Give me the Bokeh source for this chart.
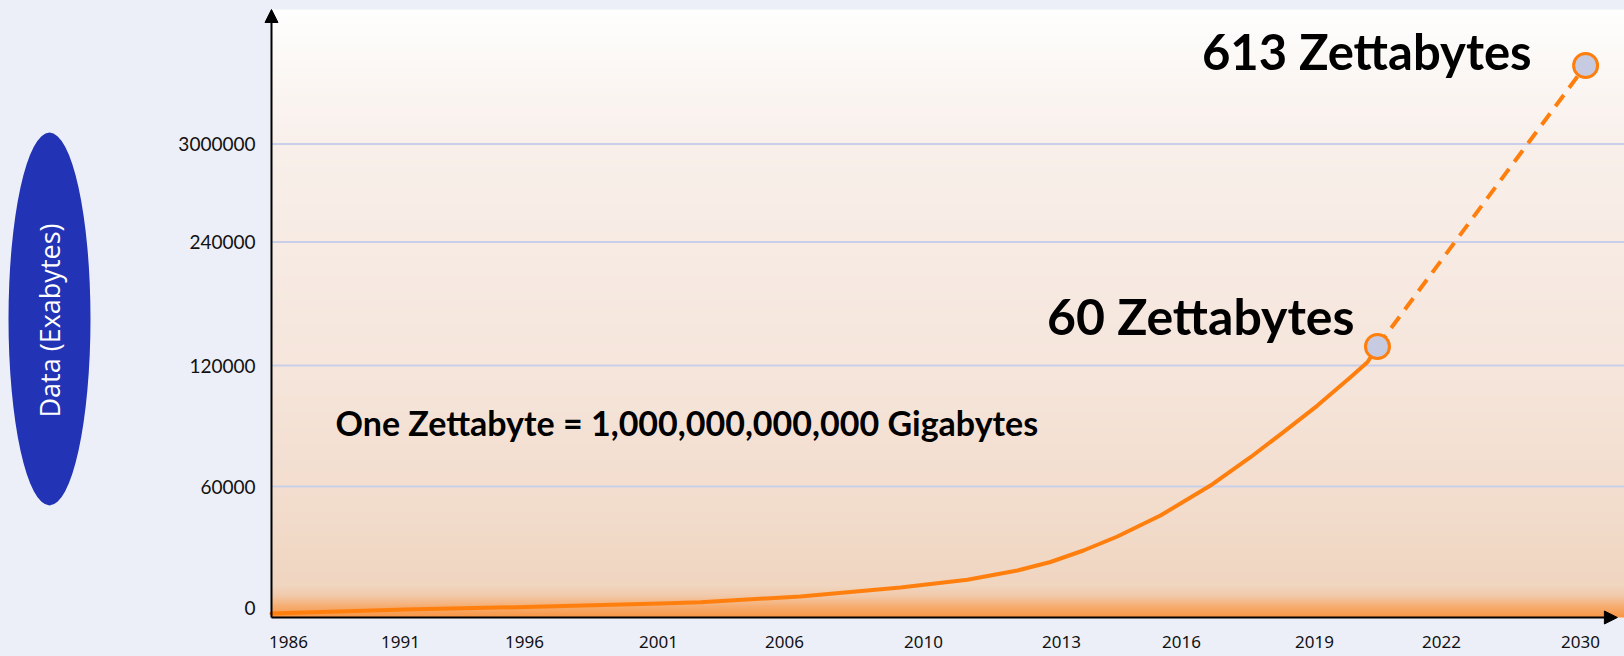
import numpy as np
from math import pi
from bokeh.plotting import figure
from bokeh.layouts import row
from bokeh.models import Range1d, FixedTicker, Arrow, NormalHead
from bokeh.core.properties import value
from bokeh.embed import file_html
from bokeh.resources import INLINE

# ---------------- data ----------------
x_labels = ["1986", "1991", "1996", "2001", "2006", "2010", "2013", "2016", "2019", "2022", "2030"]
x_tick_pos = [0.0, 0.867, 1.827, 2.864, 3.839, 4.915, 5.983, 6.912, 7.941, 8.924, 10.0]

y_labels = ["0", "60000", "120000", "240000", "3000000"]
y_tick_pos = [0.0, 1.0, 2.0, 3.02, 3.83]

# historic growth curve (chart units)
curve_x = [-0.132, 0.906, 1.842, 2.879, 3.189, 3.963, 4.737, 5.255, 5.642, 5.898,
           6.153, 6.416, 6.749, 7.136, 7.446, 7.701, 7.964, 8.220, 8.351, 8.429]
curve_y = [-0.050, -0.017, 0.004, 0.033, 0.044, 0.091, 0.165, 0.229, 0.306, 0.376,
           0.471, 0.587, 0.760, 1.008, 1.242, 1.449, 1.669, 1.903, 2.027, 2.157]

# projection (dashed) between the two highlighted points
proj_x = [8.429, 10.04]
proj_y = [2.157, 4.479]
proj_labels = ["60 Zettabytes", "613 Zettabytes"]

note_text = "One Zettabyte = 1,000,000,000,000 Gigabytes"
y_title = "Data (Exabytes)"

# ---------------- styling ----------------
BG = "#eceff8"
ORANGE = "#ff7f0e"
FONT = "Lato"

# frame extent (slightly larger than the drawn plot area so the axis arrows are not clipped)
X0, X1 = -0.1935, 10.341
Y0, Y1 = -0.157, 5.0165
# drawn plot area (axis origin and top)
XA, YA, YT = -0.1316, -0.0826, 4.942

# ---------------- left panel with the axis title ----------------
lf = figure(width=160, height=656, x_range=Range1d(0, 160), y_range=Range1d(30, 656),
            toolbar_location=None, output_backend="svg",
            min_border_left=0, min_border_right=0, min_border_top=0, min_border_bottom=30)
lf.axis.visible = False
lf.grid.visible = False
lf.outline_line_color = None
lf.background_fill_color = BG
lf.border_fill_color = BG
lf.ellipse(x=[49], y=[656 - 318.5], width=[82], height=[373],
           fill_color="#2333b5", line_color=None)
lf.text(x=[49], y=[656 - 320], text=[y_title], angle=pi / 2,
        text_align="center", text_baseline="middle", text_color="white",
        text_font=value("Open Sans"), text_font_size="27px")

# ---------------- main chart ----------------
p = figure(width=1464, height=656, x_range=Range1d(X0, X1), y_range=Range1d(Y0, Y1),
           toolbar_location=None, output_backend="svg",
           min_border_left=103, min_border_right=0, min_border_top=0, min_border_bottom=30)
p.outline_line_color = None
p.border_fill_color = BG
p.background_fill_color = BG
p.grid.visible = False

# vertical gradient for the plot area
stops_py = [9, 60, 145, 366, 488, 585, 595, 605, 617]
stops_rgb = [(255, 255, 255), (252, 249, 246), (249, 240, 235), (246, 230, 220),
             (243, 222, 207), (240, 214, 193), (242, 203, 172), (246, 176, 118), (249, 150, 66)]
rows = 608
py = 617 - (np.arange(rows) + 0.5)
img = np.empty((rows, 1), dtype=np.uint32)
view = img.view(dtype=np.uint8).reshape((rows, 1, 4))
for c in range(3):
    view[:, 0, c] = np.interp(py, stops_py, [s[c] for s in stops_rgb]).astype(np.uint8)
view[:, 0, 3] = 255
p.image_rgba(image=[img], x=XA, y=YA, dw=X1 - XA, dh=YT - YA, level="image")

# horizontal grid lines (start at the y axis)
grid_y = y_tick_pos[1:]
p.segment(x0=[XA] * len(grid_y), y0=grid_y, x1=[X1] * len(grid_y), y1=grid_y,
          line_color="#c9cfe9", line_width=2)

# axes
p.yaxis.ticker = FixedTicker(ticks=y_tick_pos)
p.yaxis.major_label_overrides = {t: l for t, l in zip(y_tick_pos, y_labels)}
p.xaxis.ticker = FixedTicker(ticks=x_tick_pos)
p.xaxis.major_label_overrides = {t: l for t, l in zip(x_tick_pos, x_labels)}
for ax in (p.xaxis[0], p.yaxis[0]):
    ax.axis_line_color = None
    ax.major_tick_line_color = None
    ax.minor_tick_line_color = None
    ax.major_tick_in = 0
    ax.major_tick_out = 0
    ax.major_label_text_color = "#111111"
p.yaxis.major_label_text_font = FONT
p.yaxis.major_label_text_font_size = "19px"
p.yaxis.major_label_standoff = 8
p.xaxis.major_label_text_font = "Noto Sans"
p.xaxis.major_label_text_font_size = "17px"
p.xaxis.major_label_standoff = 9

# axis arrows
p.add_layout(Arrow(end=NormalHead(size=13, fill_color="black", line_color="black"),
                   x_start=XA, y_start=YA, x_end=XA, y_end=YT,
                   line_color="black", line_width=2))
p.add_layout(Arrow(end=NormalHead(size=13, fill_color="black", line_color="black"),
                   x_start=XA, y_start=YA, x_end=10.286, y_end=YA,
                   line_color="black", line_width=2))

# series
p.line(curve_x, curve_y, line_color=ORANGE, line_width=4, line_join="round", line_cap="round")
p.line(proj_x, proj_y, line_color=ORANGE, line_width=4, line_dash="14 9")
p.scatter(proj_x, proj_y, size=24, fill_color="#c6cbe2", line_color=ORANGE, line_width=3)

# annotations
p.text(x=[proj_x[0]], y=[proj_y[0]], text=[proj_labels[0]], x_offset=-23, y_offset=-31,
       text_align="right", text_baseline="alphabetic", text_font=value(FONT),
       text_font_style="bold", text_font_size="50px", text_color="black")
p.text(x=[proj_x[1]], y=[proj_y[1]], text=[proj_labels[1]], x_offset=-54, y_offset=-15,
       text_align="right", text_baseline="alphabetic", text_font=value(FONT),
       text_font_style="bold", text_font_size="49px", text_color="black")
p.text(x=[0.364], y=[1.526], text=[note_text],
       text_align="left", text_baseline="alphabetic", text_font=value(FONT),
       text_font_style="bold", text_font_size="34px", text_color="black")

layout = row(lf, p, spacing=0, styles={"background-color": BG})
open("out.html", "w").write(file_html(layout, INLINE))
